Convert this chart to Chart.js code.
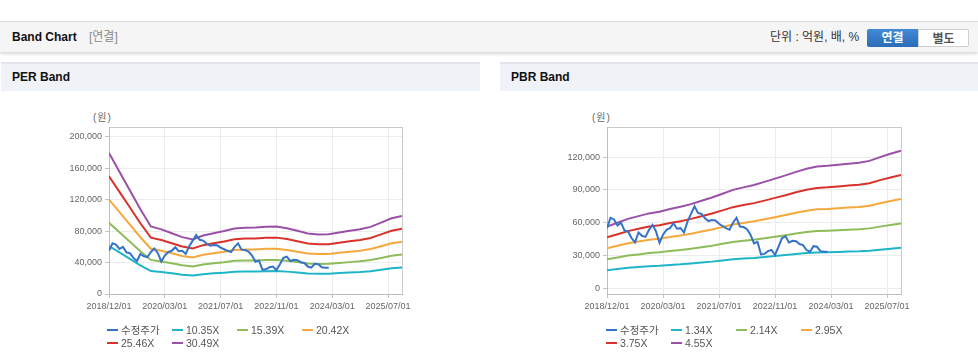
<!DOCTYPE html>
<html>
<head>
<meta charset="utf-8">
<script src="https://cdn.jsdelivr.net/npm/chart.js@4.4.1/dist/chart.umd.min.js"></script>
<style>
body { margin:0; width:978px; height:361px; overflow:hidden; background:#fff; position:relative;
  font-family:'Liberation Sans', 'Noto Sans CJK KR', sans-serif; }
.topbar { position:absolute; left:0; top:21px; width:978px; height:30px; background:#f5f5f5;
  border-top:1px solid #dedede; box-shadow:0 2px 3px rgba(0,0,0,0.16); }
.topbar .title { position:absolute; left:12px; top:0; line-height:30px; font-size:12px; font-weight:bold; color:#111; }
.topbar .sub { position:absolute; left:89px; top:0; line-height:30px; font-size:12px; color:#8a8a8a; }
.topbar .unit { position:absolute; left:770px; top:0; line-height:30px; font-size:12px; color:#333; }
.btn { position:absolute; top:7px; height:18px; line-height:18px; width:51px; text-align:center; font-size:12px; font-weight:bold; box-sizing:border-box; }
.btn.on { left:867px; color:#fff; background:linear-gradient(#4189d6, #2b6cb7); border-radius:2px 0 0 2px; }
.btn.off { left:918px; color:#555; background:#fff; border:1px solid #cfcfcf; border-radius:0 2px 2px 0; }
.panel-head { position:absolute; top:62px; height:27px; background:#eff2f7; border-top:2px solid #e2e6ec; }
.panel-head span { position:absolute; left:11px; top:0; line-height:27px; font-size:12px; font-weight:bold; color:#111; }
.unit-lbl { position:absolute; top:109px; font-size:10px; color:#666; letter-spacing:1px; }
canvas { position:absolute; top:95px; }
.legend { position:absolute; top:323px; display:grid; grid-template-columns:65px 65px 65px 65px; grid-auto-rows:13px;
  font-size:10.5px; color:#555; }
.legend div { display:flex; align-items:center; white-space:nowrap; }
.legend i { display:inline-block; width:11px; height:2px; margin-right:3px; }
</style>
</head>
<body>
<div class="topbar">
  <div class="title">Band Chart</div>
  <div class="sub">[연결]</div>
  <div class="unit">단위 : 억원, 배, %</div>
  <div class="btn on">연결</div>
  <div class="btn off">별도</div>
</div>
<div class="panel-head" style="left:1px;width:479px;"><span>PER Band</span></div>
<div class="panel-head" style="left:500px;width:478px;"><span>PBR Band</span></div>
<div class="unit-lbl" style="left:93px;">(원)</div>
<div class="unit-lbl" style="left:592px;">(원)</div>
<canvas id="perChart" width="480" height="266" style="left:0;"></canvas>
<canvas id="pbrChart" width="478" height="266" style="left:500px;"></canvas>
<div class="legend" id="perLegend" style="left:107px;"></div>
<div class="legend" id="pbrLegend" style="left:606px;"></div>
<script>
// x axis: months since 2018/12, a label every 16 months
const tickLabels = ['2018/12/01', '2020/03/01', '2021/07/01', '2022/11/01', '2024/03/01', '2025/07/01'];
const lastMonth = 84;
const bandStep = 3; // band values are quarterly

const priceName = '수정주가';
// monthly adjusted price, 2018/12 .. 2024/03
const price = [55000, 64500, 63000, 57500, 60000, 53000, 52000, 46000, 42000, 51000,
  48000, 47000, 53500, 58000, 52000, 41500, 49000, 53500, 55000, 59500,
  54500, 55000, 51000, 61000, 68000, 75000, 69000, 68000, 64000, 61500,
  62500, 62000, 59000, 57000, 55000, 53500, 60000, 64500, 56500, 56000,
  54000, 49000, 41000, 42500, 31000, 31500, 34000, 35000, 30500, 38000,
  46000, 47500, 42000, 43500, 43000, 40500, 39500, 35000, 33500, 38500,
  38000, 34000, 33500, 33500];

const perNames = ['10.35X', '15.39X', '20.42X', '25.46X', '30.49X'];
const per1 = [61000, 52900, 44800, 36600, 29200, 27900, 26300, 24600, 23600, 25300, 26300, 27200, 28300, 28700, 28800,
  29100, 29200, 28500, 27300, 26100, 25800, 25800, 26600, 27300, 28000, 29000, 30900, 32800, 33800];
const per2 = [90700, 78600, 66600, 54500, 43400, 41500, 39100, 36500, 35100, 37600, 39100, 40500, 42200, 42700, 42800,
  43300, 43400, 42300, 40600, 38900, 38300, 38400, 39500, 40600, 41600, 43200, 45900, 48700, 50200];
const per3 = [120300, 104300, 88300, 72300, 57600, 55100, 51800, 48500, 46500, 49900, 51900, 53700, 55900, 56600, 56800,
  57500, 57600, 56100, 53900, 51600, 50800, 50900, 52400, 53900, 55200, 57300, 60900, 64600, 66600];
const per4 = [150000, 130100, 110100, 90100, 71800, 68700, 64600, 60500, 58000, 62200, 64700, 67000, 69700, 70600, 70800,
  71600, 71800, 70000, 67200, 64300, 63400, 63500, 65400, 67200, 68900, 71400, 76000, 80600, 83100];
const per5 = [179700, 155800, 131900, 107900, 86000, 82300, 77400, 72400, 69500, 74500, 77500, 80200, 83500, 84500, 84800,
  85800, 86000, 83800, 80500, 77000, 75900, 76000, 78300, 80500, 82500, 85500, 91000, 96500, 99500];

const pbrNames = ['1.34X', '2.14X', '2.95X', '3.75X', '4.55X'];
const pbr1 = [16600, 17700, 18700, 19400, 20200, 20600, 21400, 21900, 22700, 23600, 24400, 25500, 26500, 27200, 27800,
  28700, 29500, 30400, 31400, 32200, 32800, 33000, 33300, 33600, 33800, 34300, 35300, 36200, 37000];
const pbr2 = [26600, 28200, 29900, 31000, 32200, 32900, 34100, 35000, 36200, 37600, 39000, 40700, 42300, 43400, 44400,
  45800, 47200, 48600, 50100, 51400, 52400, 52700, 53100, 53600, 54000, 54800, 56400, 57800, 59200];
const pbr3 = [36600, 38900, 41200, 42800, 44400, 45400, 47000, 48300, 49900, 51900, 53800, 56100, 58400, 59800, 61300,
  63100, 65000, 67000, 69100, 70900, 72200, 72600, 73300, 73900, 74400, 75500, 77800, 79800, 81600];
const pbr4 = [46600, 49500, 52300, 54400, 56500, 57700, 59800, 61400, 63500, 65900, 68400, 71300, 74200, 76100, 77900,
  80200, 82700, 85100, 87800, 90100, 91800, 92300, 93100, 94000, 94600, 96000, 98900, 101400, 103700];
const pbr5 = [56500, 60000, 63500, 66000, 68500, 70000, 72500, 74500, 77000, 80000, 83000, 86500, 90000, 92300, 94500,
  97300, 100300, 103300, 106500, 109300, 111400, 112000, 113000, 114000, 114800, 116500, 120000, 123000, 125800];

const perTicks = [0, 40000, 80000, 120000, 160000, 200000];
const pbrTicks = [0, 30000, 60000, 90000, 120000];

const priceColor = '#3573c6';
const bandColors = ['#1eb5c9', '#8dbc58', '#f6a83c', '#d8322b', '#9a50a7'];

Chart.defaults.font.family = "'Liberation Sans', 'Noto Sans CJK KR', sans-serif";
Chart.defaults.font.size = 9;
Chart.defaults.color = '#666';

function makeChart(id, legendId, names, bands, yTicks, yMin, yMax, axisWidth, padRight) {
  const datasets = [{
    label: priceName,
    data: price.map((v, i) => ({ x: i, y: v })),
    borderColor: priceColor
  }];
  bands.forEach((b, k) => {
    datasets.push({
      label: names[k],
      data: b.map((v, i) => ({ x: i * bandStep, y: v })),
      borderColor: bandColors[k]
    });
  });
  datasets.forEach(d => { d.borderWidth = 2; d.pointRadius = 0; d.fill = false; });

  const xVals = tickLabels.map((t, i) => i * 16).concat([lastMonth]);
  const yVals = (yMin < 0 ? [yMin] : []).concat(yTicks, [yMax]);
  const edge = (v, lo, hi) => v === lo || v === hi;

  const chart = new Chart(document.getElementById(id), {
    type: 'line',
    data: { datasets },
    options: {
      responsive: false,
      animation: false,
      layout: { padding: { left: 0, right: padRight, top: 32, bottom: 47 } },
      plugins: { legend: { display: false }, tooltip: { enabled: false } },
      scales: {
        x: {
          type: 'linear', min: 0, max: lastMonth,
          afterBuildTicks: s => { s.ticks = xVals.map(v => ({ value: v })); },
          afterFit: s => { s.height = 20; },
          ticks: { autoSkip: false, maxRotation: 0, padding: 3,
            callback: v => (v % 16 === 0 && v < lastMonth) ? tickLabels[v / 16] : '' },
          grid: { color: c => c.tick && c.tick.value === lastMonth ? '#c9c9c9' : '#ececec',
            tickColor: c => c.tick && c.tick.value === lastMonth ? 'rgba(0,0,0,0)' : '#c4c4c4', tickLength: 4 },
          border: { color: '#bdbdbd' }
        },
        y: {
          min: yMin, max: yMax,
          afterBuildTicks: s => { s.ticks = yVals.map(v => ({ value: v })); },
          afterFit: s => { s.width = axisWidth; },
          ticks: { padding: 3, callback: v => edge(v, yMin < 0 ? yMin : null, yMax) ? '' : v.toLocaleString('en-US') },
          grid: { color: c => c.tick && c.tick.value === yMax ? '#c9c9c9' : '#ececec',
            tickColor: c => c.tick && edge(c.tick.value, yMin < 0 ? yMin : null, yMax) ? 'rgba(0,0,0,0)' : '#c4c4c4', tickLength: 4 },
          border: { color: '#bdbdbd' }
        }
      }
    }
  });

  const legend = document.getElementById(legendId);
  chart.data.datasets.forEach(d => {
    const item = document.createElement('div');
    item.innerHTML = '<i style="background:' + d.borderColor + '"></i>' + d.label;
    legend.appendChild(item);
  });
  return chart;
}

makeChart('perChart', 'perLegend', perNames, [per1, per2, per3, per4, per5], perTicks, 0, 212700, 109, 78);
makeChart('pbrChart', 'pbrLegend', pbrNames, [pbr1, pbr2, pbr3, pbr4, pbr5], pbrTicks, -5200, 147500, 107, 77);
</script>
</body>
</html>
